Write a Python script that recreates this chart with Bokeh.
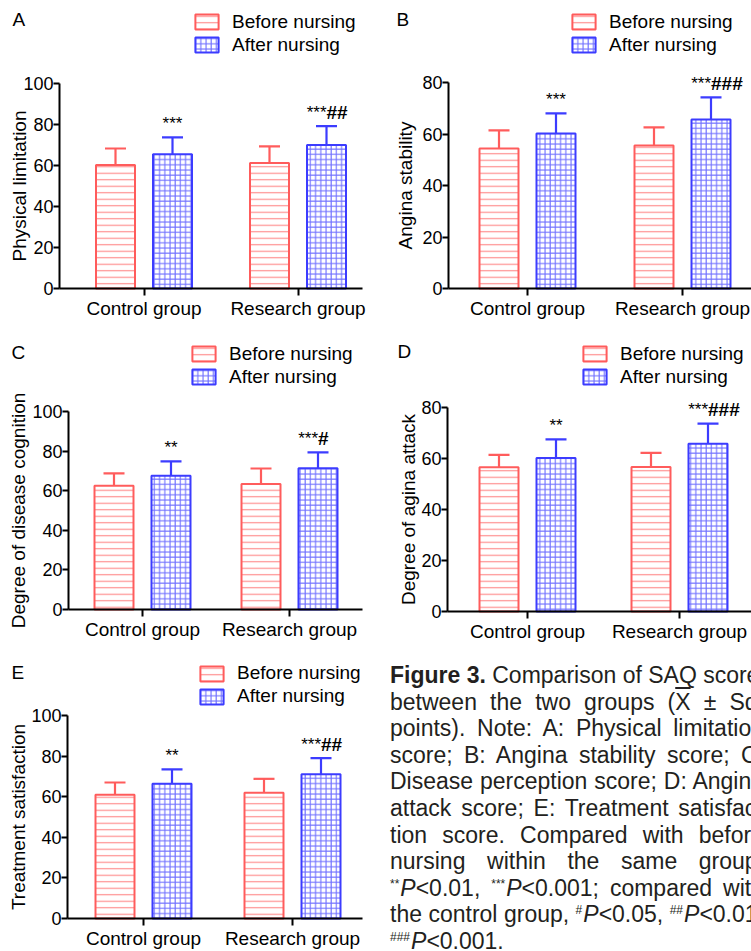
import math
from bokeh.plotting import figure
from bokeh.models import (Range1d, FixedTicker, Legend, LegendItem, Whisker, TeeHead,
                          ColumnDataSource, Label, Div)
from bokeh.layouts import column, row
from bokeh.core.properties import value, field
from bokeh.embed import file_html
from bokeh.resources import INLINE

# ---------------- data ----------------
groups = ["Control group", "Research group"]
series_names = ["Before nursing", "After nursing"]

A_before = [60.2, 61.2]
A_before_sd = [8.1, 8.1]
A_after = [65.5, 70.0]
A_after_sd = [8.2, 9.2]
A_stars = ["***", "***"]
A_hashes = ["", "##"]

B_before = [54.4, 55.5]
B_before_sd = [7.0, 7.1]
B_after = [60.2, 65.6]
B_after_sd = [7.8, 8.6]
B_stars = ["***", "***"]
B_hashes = ["", "###"]

C_before = [62.5, 63.4]
C_before_sd = [6.3, 7.8]
C_after = [67.6, 71.4]
C_after_sd = [7.2, 8.0]
C_stars = ["**", "***"]
C_hashes = ["", "#"]

D_before = [56.6, 56.7]
D_before_sd = [4.8, 5.5]
D_after = [60.2, 65.8]
D_after_sd = [7.3, 7.9]
D_stars = ["**", "***"]
D_hashes = ["", "###"]

E_before = [61.0, 62.0]
E_before_sd = [6.0, 6.8]
E_after = [66.4, 71.0]
E_after_sd = [7.1, 8.0]
E_stars = ["**", "***"]
E_hashes = ["", "##"]

caption_lines = [
    '<b>Figure 3.</b> Comparison of SAQ scores',
    'between the two groups (<span style="text-decoration:overline">X</span> &plusmn; Sd,',
    'points). Note: A: Physical limitation',
    'score; B: Angina stability score; C:',
    'Disease perception score; D: Angina',
    'attack score; E: Treatment satisfac-',
    'tion score. Compared with before',
    'nursing within the same group,',
    '<sup>**</sup><i>P</i>&lt;0.01, <sup>***</sup><i>P</i>&lt;0.001; compared with',
    'the control group, <sup>#</sup><i>P</i>&lt;0.05, <sup>##</sup><i>P</i>&lt;0.01,',
    '<sup>###</sup><i>P</i>&lt;0.001.',
]

# ---------------- style ----------------
FONT = "Liberation Sans"
RED = "#ff5c5c"
RED_H = "#ff8f8f"
BLUE = "#3c3cff"
BLUE_H = "#7070ff"

# geometry of each panel, in page pixels (layout only)
GEOM = {
    "A": dict(x0=0, y0=0, W=375, H=330, ax=59, zy=288, ty=83, c1=143.5, c2=297.5, xend=362,
              legx=195, legy=20, lx=12, ly=19, ylx=19),
    "B": dict(x0=375, y0=0, W=376, H=330, ax=448, zy=288, ty=82, c1=527, c2=682, xend=None,
              legx=572, legy=20, lx=396, ly=19, ylx=405),
    "C": dict(x0=0, y0=330, W=375, H=320, ax=68, zy=609, ty=411, c1=142, c2=289, xend=362,
              legx=192, legy=352, lx=11, ly=351.5, ylx=18),
    "D": dict(x0=375, y0=330, W=376, H=320, ax=447, zy=611, ty=407, c1=527, c2=679, xend=None,
              legx=583, legy=352, lx=397, ly=351, ylx=408),
    "E": dict(x0=0, y0=650, W=375, H=301, ax=67, zy=918, ty=715, c1=143, c2=292, xend=362,
              legx=200, legy=671.5, lx=11, ly=671.5, ylx=18),
}


def make_panel(letter, ylabel, ymax, before, before_sd, after, after_sd, stars, hashes):
    g = GEOM[letter]
    W, H = g["W"], g["H"]
    gpx = g["c2"] - g["c1"]
    ppu = (g["zy"] - g["ty"]) / ymax
    right_px = g["xend"] if g["xend"] else g["x0"] + W + 40

    def X(px):
        return (px - g["c1"]) / gpx

    def Y(py):
        return (g["zy"] - py) / ppu

    p = figure(width=W, height=H, output_backend="svg", toolbar_location=None,
               x_range=Range1d(X(g["x0"]), X(g["x0"] + W)),
               y_range=Range1d(Y(g["y0"] + H), Y(g["y0"])),
               min_border=0, min_border_left=0, min_border_right=0,
               min_border_top=0, min_border_bottom=0)
    p.outline_line_color = None
    p.background_fill_color = "white"
    p.border_fill_color = "white"
    p.xgrid.visible = False
    p.ygrid.visible = False

    off = 28.5 / gpx
    bw = 39.0 / gpx
    xs = list(range(len(groups)))

    src_b = ColumnDataSource(dict(x=[i - off for i in xs], top=before,
                                  upper=[m + s for m, s in zip(before, before_sd)]))
    src_a = ColumnDataSource(dict(x=[i + off for i in xs], top=after,
                                  upper=[m + s for m, s in zip(after, after_sd)]))

    rb = p.vbar(x="x", top="top", bottom=0, width=bw, source=src_b, fill_color="white",
                line_color=RED, line_width=2, hatch_pattern="horizontal_line",
                hatch_color=RED_H, hatch_scale=6.5, hatch_weight=1.2)
    ra = p.vbar(x="x", top="top", bottom=0, width=bw, source=src_a, fill_color="white",
                line_color=BLUE, line_width=2, hatch_pattern="cross",
                hatch_color=BLUE_H, hatch_scale=5.2, hatch_weight=1.1)

    for src, col in ((src_b, RED), (src_a, BLUE)):
        p.add_layout(Whisker(source=src, base="x", upper="upper", lower="top",
                             dimension="height", line_color=col, line_width=2.2,
                             upper_head=TeeHead(size=21, line_color=col, line_width=2.2),
                             lower_head=None))

    # significance marks
    src_s = ColumnDataSource(dict(
        x=[i + off for i in xs],
        y=[m + s for m, s in zip(after, after_sd)],
        stars=stars, hashes=hashes,
        align=["center" if h == "" else "right" for h in hashes]))
    p.text(x="x", y="y", text="stars", source=src_s, text_align=field("align"),
           text_baseline="alphabetic", y_offset=-14, text_font=value(FONT),
           text_font_size="17px", text_color="black")
    p.text(x="x", y="y", text="hashes", source=src_s, text_align="left",
           text_baseline="alphabetic", y_offset=-14, text_font=value(FONT),
           text_font_size="19px", text_font_style="bold", text_color="black")

    # axes placed at fixed data locations
    p.yaxis.fixed_location = X(g["ax"])
    p.xaxis.fixed_location = 0
    for ax in (p.xaxis[0], p.yaxis[0]):
        ax.axis_line_width = 2
        ax.axis_line_color = "black"
        ax.major_tick_line_width = 2
        ax.major_tick_line_color = "black"
        ax.major_tick_in = 0
        ax.minor_tick_out = 0
        ax.minor_tick_in = 0
        ax.major_label_text_font = FONT
        ax.major_label_text_color = "black"
    p.yaxis.major_tick_out = 6
    p.xaxis.major_tick_out = 7
    p.yaxis.ticker = FixedTicker(ticks=list(range(0, ymax + 1, 20)))
    p.yaxis.bounds = (0, ymax)
    p.yaxis.major_label_text_font_size = "18px"
    p.yaxis.major_label_standoff = 0
    p.xaxis.ticker = FixedTicker(ticks=xs)
    p.xaxis.bounds = (X(g["ax"]), X(right_px))
    p.xaxis.major_label_overrides = {i: name for i, name in enumerate(groups)}
    p.xaxis.major_label_text_font_size = "19px"
    p.xaxis.major_label_standoff = 2

    # y axis title
    p.add_layout(Label(x=X(g["ylx"]), y=ymax / 2, text=ylabel, angle=math.pi / 2,
                       text_align="center", text_baseline="middle",
                       text_font=FONT, text_font_size="19px", text_color="black"))
    # panel letter
    p.add_layout(Label(x=X(g["lx"]), y=Y(g["ly"]), text=letter, text_align="left",
                       text_baseline="middle", text_font=FONT,
                       text_font_size="19px", text_color="black"))

    # legend (location is bottom-left of the legend box, from the frame's bottom-left)
    gh, gw, item_h, pitch = 19, 29, 22, 23
    top = g["legy"] - gh / 2
    bottom = top + item_h * 2 + (pitch - item_h)
    legend = Legend(items=[LegendItem(label=series_names[0], renderers=[rb]),
                           LegendItem(label=series_names[1], renderers=[ra])],
                    location=(g["legx"] - 0.1 * gw - g["x0"], g["y0"] + H - bottom),
                    orientation="vertical", glyph_width=gw, glyph_height=gh,
                    label_height=gh, spacing=pitch - item_h, padding=0, margin=0,
                    border_line_color=None, background_fill_alpha=0,
                    label_text_font=FONT, label_text_font_size="19px",
                    label_standoff=11, label_text_color="black")
    p.add_layout(legend)
    return p


pA = make_panel("A", "Physical limitation", 100, A_before, A_before_sd, A_after, A_after_sd, A_stars, A_hashes)
pB = make_panel("B", "Angina stability", 80, B_before, B_before_sd, B_after, B_after_sd, B_stars, B_hashes)
pC = make_panel("C", "Degree of disease cognition", 100, C_before, C_before_sd, C_after, C_after_sd, C_stars, C_hashes)
pD = make_panel("D", "Degree of agina attack", 80, D_before, D_before_sd, D_after, D_after_sd, D_stars, D_hashes)
pE = make_panel("E", "Treatment satisfaction", 100, E_before, E_before_sd, E_after, E_after_sd, E_stars, E_hashes)

line_html = []
for i, ln in enumerate(caption_lines):
    last = i == len(caption_lines) - 1
    align = "left" if last else "justify"
    line_html.append(
        f'<div style="white-space:nowrap;text-align:{align};text-align-last:{align};'
        f'height:26.6px;line-height:26.6px;">{ln}</div>')
html = (
    '<style>sup{font-size:12px;vertical-align:baseline;position:relative;top:-8px;'
    'line-height:12px;display:inline-block;margin-right:1px;}'
    'i{display:inline-block;line-height:22px;}</style>'
    '<div style="position:absolute;left:15px;top:12px;width:374px;'
    'font-family:\'Liberation Sans\';'
    'font-size:23px;color:#231f20;">' + "".join(line_html) + '</div>'
)
caption = Div(text=html, width=376, height=301, margin=(0, 0, 0, 0),
              styles={"overflow": "hidden", "position": "relative"})

layout = column(row(pA, pB), row(pC, pD), row(pE, caption))

with open("out.html", "w") as f:
    f.write(file_html(layout, INLINE))
